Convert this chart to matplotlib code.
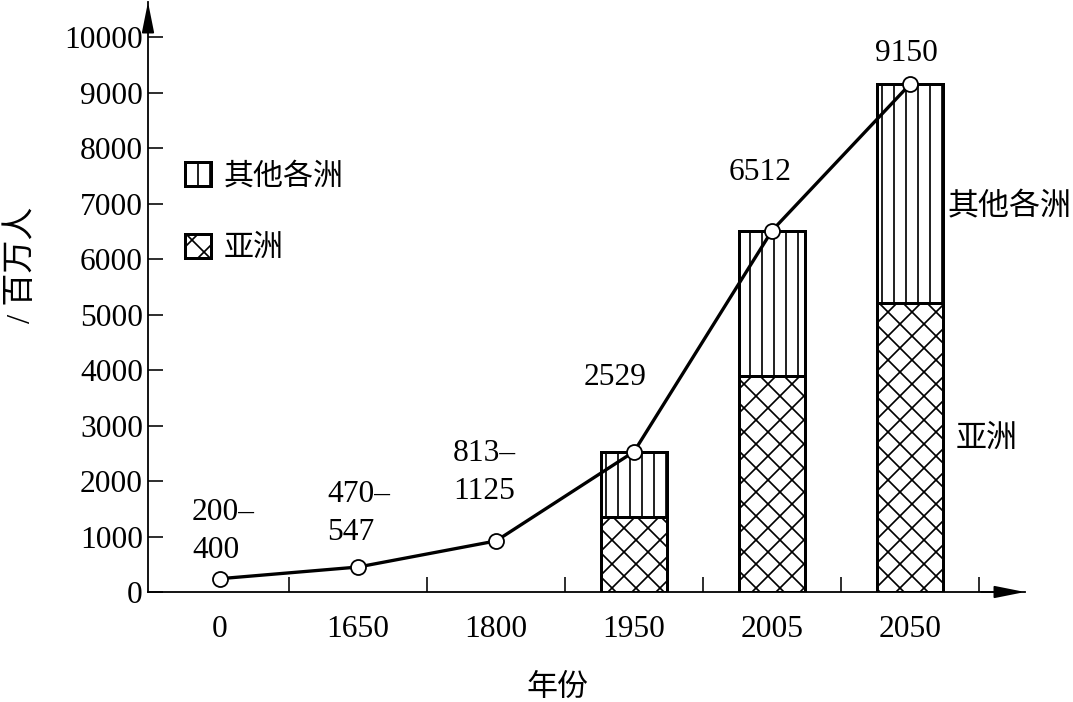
import matplotlib
matplotlib.use("Agg")
import matplotlib.pyplot as plt
import numpy as np

# ---- data ----
years = ["0", "1650", "1800", "1950", "2005", "2050"]
total_pop = [240, 450, 920, 2529, 6512, 9150]          # line values
point_labels = ["200–\n400", "470–\n547", "813–\n1125", "2529", "6512", "9150"]
bar_years_idx = [3, 4, 5]
asia = [1350, 3900, 5200]
others = [2529 - 1350, 6512 - 3900, 9150 - 5200]
yticks = [0, 1000, 2000, 3000, 4000, 5000, 6000, 7000, 8000, 9000, 10000]

plt.rcParams['font.family'] = ['Liberation Serif', 'Noto Sans CJK SC']
plt.rcParams['hatch.linewidth'] = 1.7
plt.rcParams['hatch.color'] = 'black'

DPI = 72
FS = 31.5
fig = plt.figure(figsize=(1073 / DPI, 702 / DPI), dpi=DPI)
ax = fig.add_axes([148 / 1073, 1 - 592 / 702, 877 / 1073, 590 / 702])

x = np.arange(len(years))
bx = x[bar_years_idx]
w = 0.48
b1 = ax.bar(bx, asia, width=w, facecolor='white', edgecolor='black',
            linewidth=3, hatch='x', label='亚洲', zorder=2)
b2 = ax.bar(bx, others, bottom=asia, width=w, facecolor='white', edgecolor='black',
            linewidth=3, hatch='|', label='其他各洲', zorder=2)

ax.plot(x, total_pop, color='black', lw=3.3, marker='o', ms=15,
        mfc='white', mec='black', mew=1.8, zorder=4)

# point labels (offsets in pixels, last-line baseline)
offs = [(-28, 21, 'left'), (-31, 27, 'left'), (-43, 42, 'left'),
        (-19, 67, 'center'), (-12, 51, 'center'), (-4, 23, 'center')]
for xi, yi, lab, (dx, dy, ha) in zip(x, total_pop, point_labels, offs):
    ax.annotate(lab, (xi, yi), xytext=(dx, dy), textcoords='offset points',
                ha=ha, va='baseline', fontsize=FS, linespacing=1.4)

ax.text(5.275, 6920, '其他各洲', fontsize=31, ha='left', va='center')
ax.text(5.33, 2740, '亚洲', fontsize=31, ha='left', va='center')

ax.set_xlim(-0.522, 5.833)
ax.set_ylim(0, 10631)

ax.set_xticks(x)
ax.set_xticklabels(years, fontsize=FS)
ax.set_xticks(x + 0.5, minor=True)
ax.tick_params(axis='x', which='major', length=0, pad=23)
ax.tick_params(axis='x', which='minor', direction='in', length=15, width=1.6)
ax.set_yticks(yticks)
ax.set_yticklabels([str(v) for v in yticks], fontsize=FS)
ax.tick_params(axis='y', direction='in', length=15, width=1.6, pad=5)

for s in ['top', 'right']:
    ax.spines[s].set_visible(False)
for s in ['left', 'bottom']:
    ax.spines[s].set_linewidth(1.8)

arrow = dict(arrowstyle='-|>,head_length=1.0,head_width=0.2', mutation_scale=26,
             color='black', lw=1.8, shrinkA=0, shrinkB=0)
ax.annotate('', xy=(1, 0), xytext=(0.95, 0), xycoords='axes fraction',
            arrowprops=arrow, annotation_clip=False)
ax.annotate('', xy=(0, 1), xytext=(0, 0.95), xycoords='axes fraction',
            arrowprops=arrow, annotation_clip=False)

leg = ax.legend(handles=[b2, b1], labels=['其他各洲', '亚洲'], loc='upper left',
                bbox_to_anchor=((173 - 148) / 877, (592 - 150) / 590),
                frameon=False, fontsize=30, handlelength=0.85, handleheight=0.85,
                handletextpad=0.45, labelspacing=1.45, borderaxespad=0)

fig.text(22 / 1073, 1 - 265 / 702, '/ 百万人', rotation=90, fontsize=33,
         ha='center', va='center')
fig.text(558 / 1073, 1 - 688 / 702, '年份', fontsize=31, ha='center', va='center')

fig.savefig('out.png', dpi=DPI)
